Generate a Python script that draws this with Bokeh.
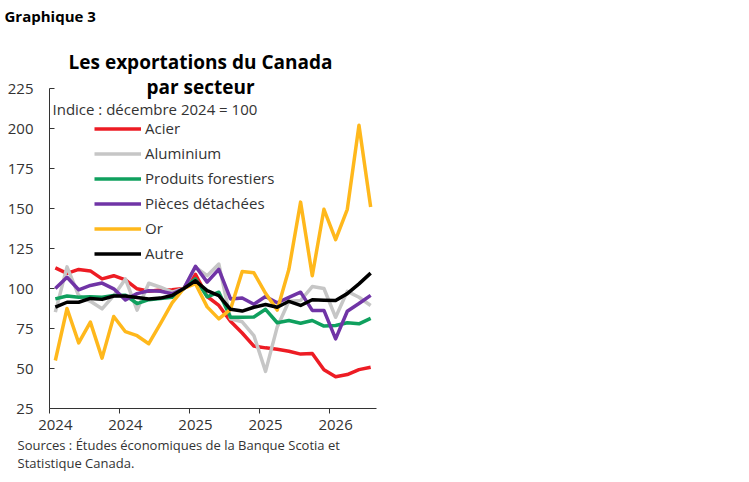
from bokeh.plotting import figure
from bokeh.models import Range1d, FixedTicker, Label, Legend, LegendItem, Title
from bokeh.embed import file_html
from bokeh.resources import INLINE

# ---- data (index, Dec 2024 = 100), monthly Jan 2024 .. Apr 2026 ----
months = ["2024-01", "2024-02", "2024-03", "2024-04", "2024-05", "2024-06",
          "2024-07", "2024-08", "2024-09", "2024-10", "2024-11", "2024-12",
          "2025-01", "2025-02", "2025-03", "2025-04", "2025-05", "2025-06",
          "2025-07", "2025-08", "2025-09", "2025-10", "2025-11", "2025-12",
          "2026-01", "2026-02", "2026-03", "2026-04"]

acier = [112.9, 109.5, 111.9, 111.0, 106.0, 108.0, 105.4, 99.8, 98.3, 99.0,
         99.2, 100.0, 108.8, 95.0, 89.4, 79.5, 72.2, 64.0, 62.9, 62.0, 60.8,
         59.0, 59.4, 49.2, 44.8, 46.2, 49.3, 50.8]
aluminium = [85.2, 113.5, 95.5, 92.0, 87.3, 95.5, 106.0, 86.5, 103.3, 100.8,
             97.7, 100.0, 113.3, 108.0, 115.3, 81.0, 79.2, 70.6, 48.2, 76.0,
             92.0, 92.5, 101.2, 100.0, 82.0, 98.2, 94.5, 89.4]
forestiers = [93.5, 95.3, 94.5, 94.8, 94.5, 95.6, 95.8, 90.6, 93.0, 93.8,
              94.5, 100.0, 106.0, 94.8, 97.7, 82.0, 82.0, 82.2, 87.0, 78.6,
              80.0, 78.3, 80.0, 76.5, 76.9, 78.6, 77.9, 81.3]
pieces = [100.0, 107.0, 99.2, 101.9, 103.4, 99.8, 92.9, 96.8, 98.6, 98.3,
          96.7, 100.0, 113.9, 104.0, 112.0, 93.5, 94.1, 90.2, 95.0, 91.1,
          94.5, 97.7, 86.3, 86.3, 68.5, 85.8, 90.6, 95.7]
or_ = [55.0, 87.5, 66.0, 79.0, 56.5, 82.5, 73.0, 70.5, 65.5, 78.0, 91.0,
       100.0, 103.0, 88.5, 81.0, 87.0, 110.6, 109.8, 97.0, 86.5, 112.0, 154.0,
       108.0, 149.5, 130.5, 149.5, 202.0, 151.0]
autre = [88.3, 91.4, 91.4, 93.8, 93.2, 95.3, 95.3, 94.4, 93.5, 94.0, 95.6,
         100.0, 104.8, 98.7, 95.6, 87.0, 85.9, 88.3, 90.0, 88.3, 92.0, 89.4,
         93.0, 92.7, 92.5, 96.8, 102.9, 109.6]

series_names = ["Acier", "Aluminium", "Produits forestiers",
                "Pièces détachées", "Or", "Autre"]
series_values = [acier, aluminium, forestiers, pieces, or_, autre]
series_colors = ["#ED1C24", "#C6C6C6", "#0FA05E", "#7034A6", "#FFB81C", "#000000"]

tick_positions = [0, 6, 12, 18, 24]
tick_labels = ["2024", "2024", "2025", "2025", "2026"]
y_ticks = [25, 50, 75, 100, 125, 150, 175, 200, 225]
y_min, y_max = 25, 225

FONT = "Open Sans"
TXT = "#333333"
AXC = "#333333"

# layout (pixels)
FRAME_TOP = 25          # canvas y of the frame top
AXIS_TOP = 88           # canvas y of value 225
FRAME_BOTTOM = 408      # canvas y of the x axis
PX_PER_UNIT = (FRAME_BOTTOM - AXIS_TOP) / (y_max - y_min)
frame_h = FRAME_BOTTOM - FRAME_TOP
y_end = y_min + frame_h / PX_PER_UNIT

x = list(range(len(months)))

p = figure(frame_width=327, frame_height=frame_h,
           x_range=Range1d(-0.5, len(months) - 0.5), y_range=Range1d(y_min, y_end),
           output_backend="svg", toolbar_location=None,
           min_border_left=49, min_border_right=10,
           min_border_top=FRAME_TOP, min_border_bottom=70)
p.outline_line_color = None
p.xgrid.grid_line_color = None
p.ygrid.grid_line_color = None
p.background_fill_color = "white"
p.border_fill_color = "white"

# x axis: labels at category centres, tick marks at category boundaries
xa = p.xaxis[0]
xa.ticker = FixedTicker(ticks=tick_positions,
                        minor_ticks=[t - 0.5 for t in tick_positions])
xa.major_label_overrides = dict(zip(tick_positions, tick_labels))
xa.major_tick_line_color = None
xa.major_tick_in = 0
xa.major_tick_out = 0
xa.minor_tick_in = 0
xa.minor_tick_out = 5
xa.minor_tick_line_color = AXC
xa.axis_line_color = AXC
xa.major_label_standoff = 6
xa.major_label_text_font = FONT
xa.major_label_text_font_size = "15px"
xa.major_label_text_color = TXT

ya = p.yaxis[0]
ya.ticker = FixedTicker(ticks=y_ticks)
ya.bounds = (y_min, y_max)
ya.major_tick_in = 5
ya.major_tick_out = 0
ya.minor_tick_line_color = None
ya.major_tick_line_color = AXC
ya.axis_line_color = AXC
ya.major_label_standoff = 16
ya.major_label_text_font = FONT
ya.major_label_text_font_size = "15px"
ya.major_label_text_color = TXT

items = []
for name, vals, col in zip(series_names, series_values, series_colors):
    r = p.line(x, vals, line_color=col, line_width=3.5, line_join="round")
    items.append(LegendItem(label=name, renderers=[r]))

legend = Legend(items=items, location=(45, 408 - 115.5 - 150), margin=0, padding=0,
                spacing=0, glyph_width=47, glyph_height=25, label_height=25,
                label_standoff=4, border_line_color=None,
                background_fill_alpha=0, label_text_font=FONT,
                label_text_font_size="15px", label_text_color=TXT)
p.add_layout(legend)

def lab(text, xx, yy, size, bold=False, align="left", color=TXT):
    p.add_layout(Label(x=xx, y=yy, x_units="screen", y_units="screen",
                       text=text, text_font=FONT, text_font_size=size,
                       text_font_style="bold" if bold else "normal",
                       text_align=align, text_baseline="middle",
                       text_color=color))

# titles inside the (extended) frame, in pixels from the frame's bottom-left
lab("Les exportations du Canada", 151, FRAME_BOTTOM - 61, "19px", bold=True, align="center", color="#000000")
lab("par secteur", 151, FRAME_BOTTOM - 86, "19px", bold=True, align="center", color="#000000")
lab("Indice : décembre 2024 = 100", 3, FRAME_BOTTOM - 108, "15px")

p.add_layout(Title(text="Graphique 3", align="left", offset=-45,
                   text_font=FONT, text_font_size="15px", text_font_style="bold",
                   text_color="#000000", standoff=0), "above")
p.add_layout(Title(text="Sources : Études économiques de la Banque Scotia et\nStatistique Canada.",
                   align="left", offset=-32, text_font=FONT, text_font_size="13px",
                   text_font_style="normal", text_color=TXT, text_line_height=1.05,
                   standoff=2), "below")

open("out.html", "w").write(file_html(p, INLINE))
